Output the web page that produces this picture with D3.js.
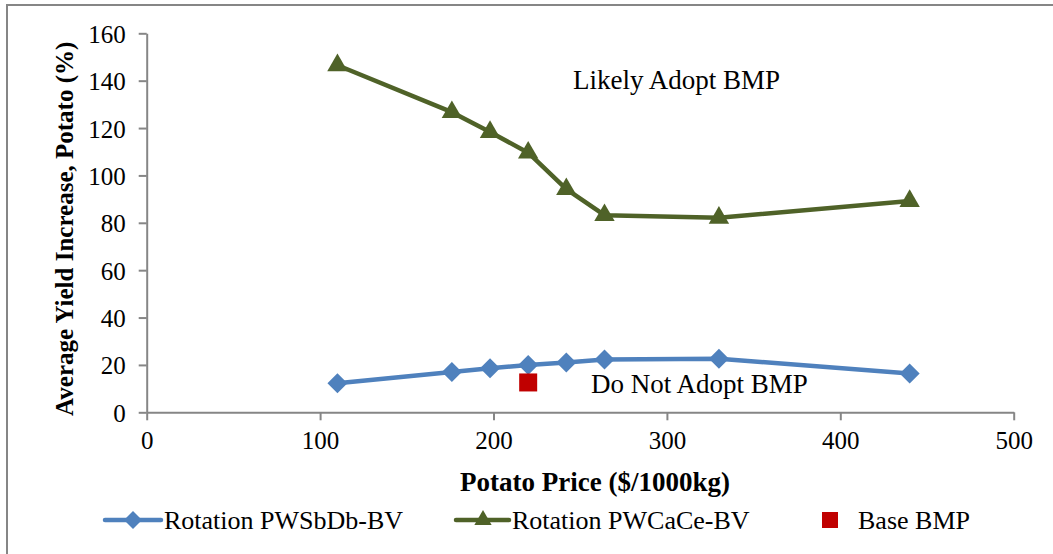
<!DOCTYPE html>
<html>
<head>
<meta charset="utf-8">
<script src="https://cdn.jsdelivr.net/npm/d3@7"></script>
<style>
  html, body { margin: 0; padding: 0; background: #fff; }
  svg { display: block; }
  text { font-family: "Liberation Serif", "Times New Roman", Times, "DejaVu Serif", serif; fill: #000; }
</style>
</head>
<body>
<svg id="chart" width="1053" height="554"></svg>
<script>
// ---- data ----
const prices = [110, 176, 198, 220, 242, 264, 330, 440];
const pwsbdb = [12.3, 17.0, 18.6, 20.0, 21.0, 22.3, 22.6, 16.4];
const pwcace = [146.5, 126.7, 118.3, 109.6, 94.2, 83.2, 82.1, 89.2];
const baseBMP = [{ x: 220, y: 12.6 }];
const xTicks = [0, 100, 200, 300, 400, 500];
const yTicks = [0, 20, 40, 60, 80, 100, 120, 140, 160];
const seriesNames = ["Rotation PWSbDb-BV", "Rotation PWCaCe-BV", "Base BMP"];
const annotations = ["Likely Adopt BMP", "Do Not Adopt BMP"];
const xTitle = "Potato Price ($/1000kg)";
const yTitle = "Average Yield Increase, Potato (%)";

const blue = "#4F81BD", green = "#4F6228", red = "#C00000", axisCol = "#868686";
const serif = "'Liberation Serif', 'Times New Roman', Times, serif";

const svg = d3.select("#chart");

// outer border (top + left visible)
svg.append("rect").attr("x", 7).attr("y", 5).attr("width", 1060).attr("height", 560)
  .attr("fill", "none").attr("stroke", axisCol).attr("stroke-width", 2);

const x = d3.scaleLinear().domain([0, 500]).range([146.7, 1013.7]);
const y = d3.scaleLinear().domain([0, 160]).range([412.3, 33.3]);

// axes
const xAxis = svg.append("g").attr("transform", `translate(0,${y(0)})`)
  .call(d3.axisBottom(x).tickValues(xTicks).tickSize(8).tickPadding(10).tickSizeOuter(0));
const yAxis = svg.append("g").attr("transform", `translate(${x(0)},0)`)
  .call(d3.axisLeft(y).tickValues(yTicks).tickSize(8).tickPadding(13).tickSizeOuter(0));
[xAxis, yAxis].forEach(g => {
  g.attr("font-family", serif);
  g.select(".domain").attr("stroke", axisCol).attr("stroke-width", 2);
  g.selectAll(".tick line").attr("stroke", axisCol).attr("stroke-width", 2);
  g.selectAll(".tick text").attr("font-family", serif).attr("font-size", 25).attr("fill", "#000");
});
yAxis.selectAll(".tick text").attr("dy", "0.36em");
xAxis.selectAll(".tick text").attr("dy", "0.76em");

// axis titles
svg.append("text").attr("x", 595).attr("y", 491).attr("font-family", serif)
  .attr("text-anchor", "middle").attr("font-weight", "bold").attr("font-size", 27).text(xTitle);
svg.append("text").attr("transform", `translate(73,${(y(0) + y(160)) / 2 + 6}) rotate(-90)`)
  .attr("font-family", serif)
  .attr("text-anchor", "middle").attr("font-weight", "bold").attr("font-size", 25).text(yTitle);

// lines
const line = vals => d3.line().x((d, i) => x(prices[i])).y(d => y(d))(vals);
svg.append("path").attr("d", line(pwcace)).attr("fill", "none").attr("stroke", green)
  .attr("stroke-width", 4.5).attr("stroke-linejoin", "round");
svg.append("path").attr("d", line(pwsbdb)).attr("fill", "none").attr("stroke", blue)
  .attr("stroke-width", 4.5).attr("stroke-linejoin", "round");

const triangle = d3.symbol().type(d3.symbolTriangle).size(180);
const diamond = "M0,-10L10,0L0,10L-10,0Z";

svg.append("g").selectAll("path").data(pwcace).join("path")
  .attr("transform", (d, i) => `translate(${x(prices[i])},${y(d)})`)
  .attr("d", triangle).attr("fill", green);
svg.append("g").selectAll("path").data(pwsbdb).join("path")
  .attr("transform", (d, i) => `translate(${x(prices[i])},${y(d)})`)
  .attr("d", diamond).attr("fill", blue);

svg.append("g").selectAll("rect").data(baseBMP).join("rect")
  .attr("x", d => x(d.x) - 9).attr("y", d => y(d.y) - 9)
  .attr("width", 18).attr("height", 18).attr("fill", red);

// annotations
svg.append("text").attr("x", 573).attr("y", 89).attr("font-family", serif).attr("font-size", 27).text(annotations[0]);
svg.append("text").attr("x", 591).attr("y", 393).attr("font-family", serif).attr("font-size", 27).text(annotations[1]);

// legend
const lg = svg.append("g").attr("font-family", serif);
const ly = 520;
lg.append("line").attr("x1", 105).attr("x2", 161).attr("y1", ly).attr("y2", ly)
  .attr("stroke", blue).attr("stroke-width", 4.5).attr("stroke-linecap", "round");
lg.append("path").attr("transform", `translate(133,${ly})`).attr("d", "M0,-9L9,0L0,9L-9,0Z").attr("fill", blue);
lg.append("text").attr("x", 164).attr("y", 529).attr("font-size", 26).text(seriesNames[0]);

lg.append("line").attr("x1", 456).attr("x2", 509).attr("y1", ly).attr("y2", ly)
  .attr("stroke", green).attr("stroke-width", 4.5).attr("stroke-linecap", "round");
lg.append("path").attr("transform", `translate(483,${ly})`).attr("d", d3.symbol().type(d3.symbolTriangle).size(130)).attr("fill", green);
lg.append("text").attr("x", 512).attr("y", 529).attr("font-size", 26).text(seriesNames[1]);

lg.append("rect").attr("x", 822).attr("y", 512).attr("width", 16).attr("height", 16).attr("fill", red);
lg.append("text").attr("x", 858).attr("y", 529).attr("font-size", 26).text(seriesNames[2]);
</script>
</body>
</html>
